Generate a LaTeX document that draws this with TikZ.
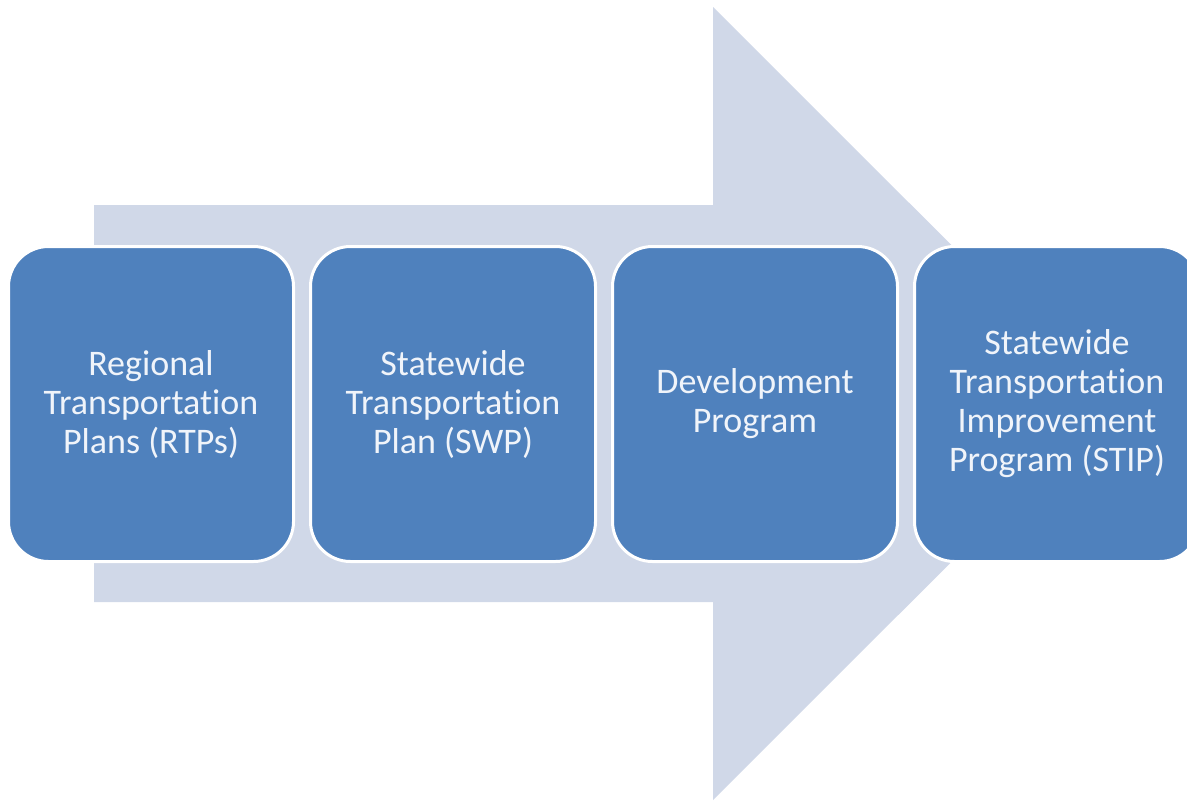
\documentclass[tikz,border=0pt]{standalone}
\usepackage{fontspec}
\setmainfont[Ligatures=NoCommon]{Carlito}
\definecolor{arrowfill}{RGB}{208,216,232}
\definecolor{boxfill}{RGB}{79,129,189}
\definecolor{boxtext}{RGB}{240,244,250}
\begin{document}
\begin{tikzpicture}[x=1pt,y=-1pt,
  stage/.style={draw=white, line width=3pt, fill=boxfill, rounded corners=40pt,
    minimum width=285pt, minimum height=315pt, inner sep=0pt, align=center,
    text=boxtext, font=\fontsize{36}{39}\selectfont}]
\fill[white] (0,0) rectangle (1187,801);
\useasboundingbox (0,0) rectangle (1187,801);
\clip (0,0) rectangle (1187,801);
\fill[arrowfill] (94,205) -- (713,205) -- (713,7) -- (1110,403.5) -- (713,800) -- (713,602) -- (94,602) -- cycle;
\node[stage] (rtp) at (151,404) {Regional\\Transportation\\Plans (RTPs)};
\node[stage] (swp) at (453,404) {Statewide\\Transportation\\Plan (SWP)};
\node[stage] (dev) at (755,404) {Development\\Program};
\node[stage] (stip) at (1057,404) {Statewide\\Transportation\\Improvement\\Program (STIP)};
\end{tikzpicture}
\end{document}
